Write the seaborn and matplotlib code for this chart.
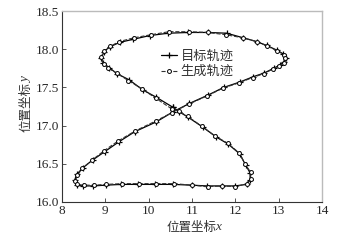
import matplotlib

matplotlib.use("Agg")
import matplotlib.pyplot as plt
import pandas as pd
import seaborn as sns

# target trajectory (figure-eight)
target_x = [10.56, 10.18, 9.86, 9.55, 9.27, 9.09, 8.95, 8.91, 8.97, 9.10, 9.33, 9.64,
            10.03, 10.45, 10.91, 11.38, 11.80, 12.18, 12.49, 12.72, 12.95, 13.10, 13.16,
            13.11, 13.02, 12.88, 12.67, 12.41, 12.10, 11.73, 11.37, 10.94, 10.56, 10.18,
            9.68, 9.32, 8.99, 8.71, 8.49, 8.34, 8.30, 8.34, 8.49, 8.72, 9.01, 9.37, 9.76,
            10.15, 10.57, 10.99, 11.34, 11.68, 11.99, 12.26, 12.34, 12.34, 12.24, 12.10,
            11.83, 11.56, 11.25, 10.91, 10.71, 10.56]
target_y = [17.24, 17.37, 17.47, 17.60, 17.68, 17.76, 17.82, 17.88, 17.97, 18.03, 18.09,
            18.13, 18.18, 18.21, 18.22, 18.22, 18.21, 18.15, 18.10, 18.05, 17.99, 17.94,
            17.89, 17.83, 17.79, 17.75, 17.69, 17.64, 17.57, 17.50, 17.40, 17.29, 17.18,
            17.05, 16.92, 16.79, 16.66, 16.55, 16.45, 16.36, 16.29, 16.22, 16.21, 16.21,
            16.22, 16.23, 16.23, 16.23, 16.23, 16.22, 16.21, 16.21, 16.21, 16.23, 16.29,
            16.38, 16.48, 16.63, 16.76, 16.85, 16.98, 17.11, 17.18, 17.24]

# generated trajectory, slightly off the target
gen_x = [10.53, 10.16, 9.85, 9.53, 9.26, 9.07, 8.96, 8.90, 8.98, 9.12, 9.32, 9.66,
         10.05, 10.47, 10.93, 11.36, 11.78, 12.17, 12.50, 12.74, 12.96, 13.12, 13.14,
         13.12, 13.00, 12.86, 12.65, 12.40, 12.08, 11.71, 11.35, 10.92, 10.54, 10.16,
         9.69, 9.30, 8.97, 8.70, 8.47, 8.36, 8.31, 8.35, 8.51, 8.74, 9.02, 9.38, 9.77,
         10.17, 10.58, 11.00, 11.36, 11.70, 12.00, 12.27, 12.36, 12.35, 12.22, 12.09,
         11.82, 11.54, 11.23, 10.90, 10.69, 10.53]
gen_y = [17.22, 17.36, 17.48, 17.59, 17.69, 17.75, 17.81, 17.90, 17.98, 18.04, 18.10,
         18.15, 18.19, 18.23, 18.23, 18.22, 18.19, 18.15, 18.10, 18.04, 17.98, 17.93,
         17.89, 17.82, 17.78, 17.74, 17.68, 17.63, 17.56, 17.49, 17.39, 17.28, 17.17,
         17.06, 16.93, 16.80, 16.67, 16.55, 16.44, 16.35, 16.28, 16.23, 16.22, 16.22,
         16.23, 16.24, 16.24, 16.24, 16.24, 16.22, 16.20, 16.21, 16.20, 16.24, 16.30,
         16.39, 16.50, 16.64, 16.77, 16.86, 16.99, 17.12, 17.19, 17.22]

x_ticks = [8, 9, 10, 11, 12, 13, 14]
y_ticks = [16.0, 16.5, 17.0, 17.5, 18.0, 18.5]
labels = ["目标轨迹", "生成轨迹"]

sns.set_theme(style="ticks")
plt.rcParams["font.family"] = ["Liberation Serif", "Noto Sans CJK SC"]

df_t = pd.DataFrame({"x": target_x, "y": target_y})
df_g = pd.DataFrame({"x": gen_x, "y": gen_y})

fig = plt.figure(figsize=(3.64, 2.41), dpi=100)
ax = fig.add_axes([0.170, 0.162, 0.715, 0.792])

sns.lineplot(data=df_t, x="x", y="y", sort=False, estimator=None, ax=ax,
             color="black", lw=0.9, marker="+", markersize=4.5,
             markeredgecolor="black", markeredgewidth=0.9)
sns.lineplot(data=df_g, x="x", y="y", sort=False, estimator=None, ax=ax,
             color="#333333", lw=0.8, linestyle="--", marker="o", markersize=2.8,
             markerfacecolor="white", markeredgecolor="black", markeredgewidth=0.7)

ax.set_xlim(8, 14)
ax.set_ylim(16.0, 18.5)
ax.set_xticks(x_ticks)
ax.set_xticklabels([str(t) for t in x_ticks])
ax.set_yticks(y_ticks)
ax.set_yticklabels([f"{t:.1f}" for t in y_ticks])
ax.tick_params(direction="in", length=3, width=0.7, labelsize=9.5, pad=2, color="#555555")
for side in ["left", "bottom"]:
    ax.spines[side].set_color("#333333")
    ax.spines[side].set_linewidth(0.8)
for side in ["top", "right"]:
    ax.spines[side].set_visible(True)
    ax.spines[side].set_color("#bbbbbb")
    ax.spines[side].set_linewidth(1.0)

cjk = ["Noto Sans CJK SC", "DejaVu Sans"]
xl = ax.set_xlabel("位置坐标", fontsize=9, color="#333333", labelpad=3, family=cjk)
yl = ax.set_ylabel("位置坐标", fontsize=9, color="#333333", labelpad=2, family=cjk)
# italic variable names appended to the axis labels
ax.annotate("x", xy=(1, 0.5), xycoords=xl, xytext=(-1, 0), textcoords="offset points",
            ha="left", va="center", fontsize=9.5, style="italic", color="#333333",
            family="Liberation Serif")
ax.annotate("y", xy=(0.5, 1), xycoords=yl, xytext=(0, -1), textcoords="offset points",
            ha="center", va="bottom", fontsize=9.5, style="italic", color="#333333",
            family="Liberation Serif", rotation=90)

leg = ax.legend(ax.lines[:2], labels, loc="upper left", bbox_to_anchor=(0.35, 0.84),
                frameon=False, handlelength=1.2, handletextpad=0.3,
                labelspacing=0.2, borderpad=0.1, prop={"family": cjk, "size": 9.5})
for t in leg.get_texts():
    t.set_color("#333333")

fig.savefig("out.png", dpi=100)
